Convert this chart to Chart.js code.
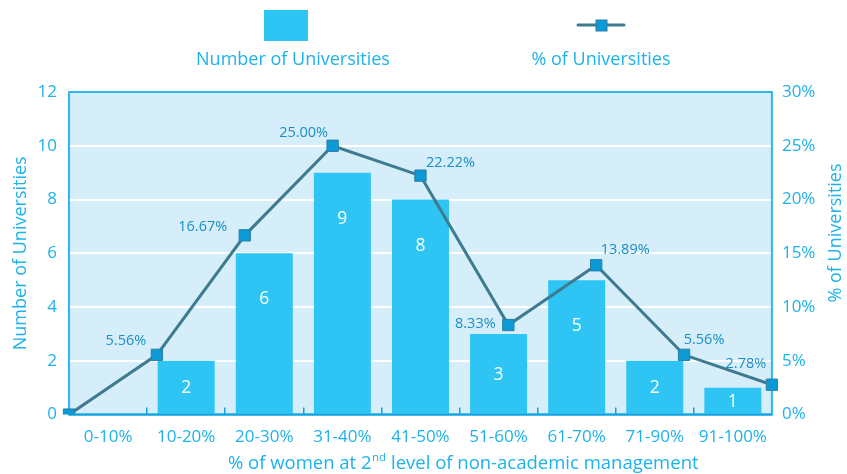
<!DOCTYPE html>
<html><head><meta charset="utf-8">
<script src="https://cdn.jsdelivr.net/npm/chart.js@4/dist/chart.umd.min.js"></script>
<style>html,body{margin:0;padding:0;background:#fff}#wrap{width:847px;height:474px}</style>
</head><body><div id="wrap"><canvas id="c" width="847" height="474"></canvas></div>
<script>
const categories = ['0-10%','10-20%','20-30%','31-40%','41-50%','51-60%','61-70%','71-90%','91-100%'];
const numberOfUniversities = [0, 2, 6, 9, 8, 3, 5, 2, 1];
const percentOfUniversities = [0, 5.56, 16.67, 25.00, 22.22, 8.33, 13.89, 5.56, 2.78];
const seriesNames = ['Number of Universities', '% of Universities'];
const xTitleParts = ['% of women at 2', 'nd', ' level of non-academic management'];

const FONT = "'Open Sans', sans-serif";
const CYAN = '#1db2ea';
const LABEL_BLUE = '#1a8fc6';
const BAR = '#2ec5f4';
const LINE = '#3e7b91';
const POINT = '#0c9ad7';
const FRAME = '#2bb9ee';

const framePlugin = {
  id: 'frame',
  beforeDraw(chart) {
    const {ctx, chartArea: a} = chart;
    ctx.save();
    ctx.fillStyle = '#d6eefa';
    ctx.fillRect(a.left, a.top, a.right - a.left, a.bottom - a.top);
    ctx.restore();
  },
  afterDatasetDraw(chart, args) {
    if (args.meta.type !== 'bar') return;
    const {ctx, chartArea: a} = chart;
    ctx.save();
    ctx.strokeStyle = FRAME;
    ctx.lineWidth = 2;
    ctx.strokeRect(a.left, a.top, a.right - a.left, a.bottom - a.top);
    ctx.strokeStyle = '#13a2e0';
    ctx.beginPath();
    ctx.moveTo(a.left, a.bottom); ctx.lineTo(a.right, a.bottom);
    ctx.stroke();
    ctx.restore();
  }
};

const labelPlugin = {
  id: 'valueLabels',
  afterDatasetsDraw(chart, args, opts) {
    const {ctx} = chart;
    ctx.save();
    const barMeta = chart.getDatasetMeta(0);
    ctx.fillStyle = '#ffffff';
    ctx.font = '17.5px ' + FONT;
    ctx.textAlign = 'center';
    ctx.textBaseline = 'middle';
    barMeta.data.forEach((el, i) => {
      const v = chart.data.datasets[0].data[i];
      if (!v) return;
      const h = el.base - el.y;
      const dy = Math.min(h / 2, opts.barMaxDrop);
      ctx.fillText(String(v), el.x, el.y + dy + 1);
    });
    const lineMeta = chart.getDatasetMeta(1);
    ctx.fillStyle = LABEL_BLUE;
    ctx.font = '14.5px ' + FONT;
    lineMeta.data.forEach((el, i) => {
      const v = chart.data.datasets[1].data[i];
      const off = opts.lineOffsets[i];
      if (!v || !off) return;
      ctx.fillText(v.toFixed(2) + '%', el.x + off[0], el.y + off[1]);
    });
    ctx.restore();
  }
};

const legendPlugin = {
  id: 'customLegend',
  afterDraw(chart) {
    const {ctx} = chart;
    const ds = chart.data.datasets;
    ctx.save();
    ctx.fillStyle = ds[0].backgroundColor;
    ctx.fillRect(264, 10, 44, 31);
    ctx.strokeStyle = ds[1].borderColor;
    ctx.lineWidth = 3;
    ctx.lineCap = 'round';
    ctx.beginPath(); ctx.moveTo(578, 25); ctx.lineTo(624, 25); ctx.stroke();
    ctx.fillStyle = ds[1].pointBackgroundColor;
    ctx.strokeStyle = ds[1].pointBorderColor;
    ctx.lineWidth = 1;
    ctx.fillRect(596, 20, 11, 11);
    ctx.strokeRect(596, 20, 11, 11);
    ctx.fillStyle = CYAN;
    ctx.font = '18px ' + FONT;
    ctx.textAlign = 'center';
    ctx.textBaseline = 'middle';
    ctx.fillText(ds[0].label, 293, 60);
    ctx.fillText(ds[1].label, 601, 60);
    // right axis title, reading bottom-to-top like the left one
    const r = chart.scales.y1;
    ctx.save();
    ctx.translate(r.right - 11, 233);
    ctx.rotate(-Math.PI / 2);
    ctx.fillText(seriesNames[1], 0, 0);
    ctx.restore();
    // x axis title with superscript
    const big = '18.5px ' + FONT, small = '11.5px ' + FONT;
    ctx.font = big; const w0 = ctx.measureText(xTitleParts[0]).width;
    const w2 = ctx.measureText(xTitleParts[2]).width;
    ctx.font = small; const w1 = ctx.measureText(xTitleParts[1]).width;
    let x = 463 - (w0 + w1 + w2) / 2;
    const y = 463;
    ctx.textAlign = 'left';
    ctx.textBaseline = 'alphabetic';
    ctx.font = big; ctx.fillText(xTitleParts[0], x, y + 6); x += w0;
    ctx.font = small; ctx.fillText(xTitleParts[1], x + 0.5, y - 2); x += w1 + 0.5;
    ctx.font = big; ctx.fillText(xTitleParts[2], x, y + 6);
    ctx.restore();
  }
};

new Chart(document.getElementById('c'), {
  data: {
    labels: categories,
    datasets: [
      {
        type: 'bar',
        label: seriesNames[0],
        data: numberOfUniversities,
        backgroundColor: BAR,
        borderWidth: 0,
        grouped: false,
        barPercentage: 0.73,
        categoryPercentage: 1,
        xAxisID: 'x',
        yAxisID: 'y',
        order: 1
      },
      {
        type: 'line',
        label: seriesNames[1],
        data: percentOfUniversities,
        borderColor: LINE,
        borderWidth: 3,
        tension: 0,
        pointStyle: 'rect',
        pointRadius: 8,
        pointBackgroundColor: POINT,
        pointBorderColor: '#2a7fa3',
        pointBorderWidth: 1,
        xAxisID: 'xLine',
        yAxisID: 'y1',
        order: 0
      }
    ]
  },
  options: {
    responsive: false,
    animation: false,
    devicePixelRatio: 1,
    layout: { padding: { top: 92, left: 10, right: 0, bottom: 8 } },
    plugins: {
      legend: { display: false },
      tooltip: { enabled: false },
      valueLabels: {
        barMaxDrop: 45,
        lineOffsets: [null, [-31, -14], [-42, -8], [-29, -13], [30, -13], [-33, -1], [29, -15], [20, -15], [-26, -21]]
      }
    },
    scales: {
      x: {
        type: 'category',
        position: 'bottom',
        offset: true,
        border: { display: false },
        grid: {
          display: true, offset: true, drawOnChartArea: false, drawTicks: true,
          tickLength: -7, color: '#13a2e0', lineWidth: 1.5
        },
        ticks: { color: CYAN, font: { family: FONT, size: 17 }, padding: 19, autoSkip: false, maxRotation: 0 }
      },
      xLine: {
        type: 'category',
        labels: categories,
        offset: false,
        display: false
      },
      y: {
        position: 'left',
        min: 0, max: 12,
        border: { display: false },
        grid: { color: '#ffffff', lineWidth: 2, drawTicks: false },
        ticks: { stepSize: 2, color: CYAN, font: { family: FONT, size: 17 }, padding: 12 },
        title: { display: true, text: seriesNames[0], color: CYAN, font: { family: FONT, size: 18 }, padding: { top: 0, bottom: -6 } }
      },
      y1: {
        position: 'right',
        min: 0, max: 30,
        border: { display: false },
        grid: { drawOnChartArea: false, drawTicks: false },
        ticks: { stepSize: 5, color: CYAN, font: { family: FONT, size: 17 }, padding: 10, callback: v => v + '%' },
        title: { display: true, text: seriesNames[1], color: 'rgba(0,0,0,0)', font: { family: FONT, size: 18 }, padding: { top: 0, bottom: 0 } }
      }
    }
  },
  plugins: [framePlugin, labelPlugin, legendPlugin]
});
</script>
</body></html>
